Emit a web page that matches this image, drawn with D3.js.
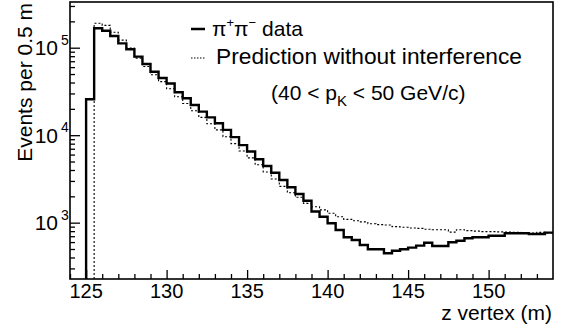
<!DOCTYPE html>
<html><head><meta charset="utf-8">
<script src="https://cdn.jsdelivr.net/npm/d3@7"></script>
<style>
body{margin:0;background:#fff}
text{font-family:"Liberation Sans",Arial,Helvetica,sans-serif;fill:#000}
</style>
</head><body><svg id="c" width="566" height="326"></svg>
<script>
// ---- data ----
const binWidth = 0.5;
const dataStart = 125.0;   // pi+pi- data, first bin low edge (m)
const dataValues = [25700,167000,156000,136000,112000,96000,79000,65000,53000,45000,
  39000,31000,26400,22100,18600,16000,13700,11500,9500,7700,
  6500,5300,4450,3720,3070,2540,2130,1780,1340,1170,
  985,826,681,634,556,497,497,447,478,497,
  518,546,590,542,542,597,622,663,681,681,
  710,710,757,757,757,741,741,770];
const predStart = 125.5;   // prediction without interference
const predValues = [190000,180000,150000,122000,99000,76000,61000,49000,41000,34000,
  27500,23000,19000,16000,13500,11500,9600,8000,6600,5500,
  4600,3800,3150,2600,2200,1950,1660,1520,1400,1280,
  1170,1090,1050,1020,970,950,940,900,885,870,
  860,840,830,830,780,830,810,800,790,790,
  785,780,775,770,760,775,765];
const xTickLabels = [125,130,135,140,145,150];
const xMinorTicks = [124,126,127,128,129,131,132,133,134,136,137,138,139,141,142,143,144,146,147,148,149,151,152,153];
const yTickExponents = [3,4,5];
const yMinorTicks = [300,400,500,600,700,800,900,2000,3000,4000,5000,6000,7000,8000,9000,
  20000,30000,40000,50000,60000,70000,80000,90000,200000,300000];
const xDomain = [124,154];
const yDomain = [227,333000];

// ---- chart ----
const svg = d3.select("#c");
const L=70,R=553,T=2,B=279;
const x = d3.scaleLinear().domain(xDomain).range([L,R]);
const y = d3.scaleLog().domain(yDomain).range([B,T]);

function histPath(start, vals){
  const pts = [[start, yDomain[0]]];
  vals.forEach((v,i)=>pts.push([start+i*binWidth, v]));
  pts.push([start+vals.length*binWidth, vals[vals.length-1]]);
  return d3.line().x(d=>x(d[0])).y(d=>y(d[1])).curve(d3.curveStepAfter)(pts);
}

svg.append("path").attr("d",histPath(predStart,predValues))
  .attr("fill","none").attr("stroke","#000").attr("stroke-width",1.1)
  .attr("stroke-dasharray","2,2");
svg.append("path").attr("d",histPath(dataStart,dataValues))
  .attr("fill","none").attr("stroke","#000").attr("stroke-width",2.4)
  .attr("stroke-linejoin","miter");

// axes ticks
const gx = svg.append("g").attr("transform",`translate(0,${B})`);
gx.call(d3.axisBottom(x).tickValues(xTickLabels).tickSize(-9).tickFormat(""));
const gxm = svg.append("g").attr("transform",`translate(0,${B})`);
gxm.call(d3.axisBottom(x).tickValues(xMinorTicks).tickSize(-5).tickFormat(""));
const gy = svg.append("g").attr("transform",`translate(${L},0)`);
gy.call(d3.axisLeft(y).tickValues(yTickExponents.map(e=>Math.pow(10,e))).tickSize(-10).tickFormat(""));
const gym = svg.append("g").attr("transform",`translate(${L},0)`);
gym.call(d3.axisLeft(y).tickValues(yMinorTicks).tickSize(-5).tickFormat(""));
svg.selectAll(".domain").remove();
svg.selectAll(".tick line").attr("stroke","#000").attr("stroke-width",1.3);

// frame
svg.append("rect").attr("x",L).attr("y",T).attr("width",R-L).attr("height",B-T)
  .attr("fill","none").attr("stroke","#000").attr("stroke-width",1.6);

// x tick labels
svg.selectAll("text.xl").data(xTickLabels).enter().append("text")
  .attr("class","xl").attr("x",d=>x(d)).attr("y",298)
  .attr("text-anchor","middle").attr("font-size",20).text(d=>d);
// y tick labels
yTickExponents.forEach(e=>{
  svg.append("text").attr("x",58).attr("y",y(Math.pow(10,e))+7.5)
    .attr("text-anchor","end").attr("font-size",21).text("10");
  svg.append("text").attr("x",61).attr("y",y(Math.pow(10,e))-3)
    .attr("font-size",14).text(e);
});

// axis titles
svg.append("text").attr("x",552).attr("y",320).attr("text-anchor","end")
  .attr("font-size",21).text("z vertex (m)");
svg.append("text").attr("transform","translate(32,3) rotate(-90)")
  .attr("text-anchor","end").attr("font-size",21).text("Events per 0.5 m");

// legend
svg.append("line").attr("x1",191).attr("x2",205).attr("y1",29).attr("y2",29)
  .attr("stroke","#000").attr("stroke-width",2.5);
const t1 = svg.append("text").attr("x",212).attr("y",36).attr("font-size",21);
t1.append("tspan").text("π");
t1.append("tspan").attr("font-size",13).attr("dy",-9).text("+");
t1.append("tspan").attr("dy",9).text("π");
t1.append("tspan").attr("font-size",13).attr("dy",-9).text("−");
t1.append("tspan").attr("dy",9).text(" data");
svg.append("line").attr("x1",191).attr("x2",206).attr("y1",58).attr("y2",58)
  .attr("stroke","#000").attr("stroke-width",1).attr("stroke-dasharray","1.5,1.5");
svg.append("text").attr("x",216).attr("y",64).attr("font-size",21.5)
  .attr("textLength",306).attr("lengthAdjust","spacingAndGlyphs")
  .text("Prediction without interference");
const t3 = svg.append("text").attr("x",271).attr("y",100).attr("font-size",21);
t3.append("tspan").text("(40 < p");
t3.append("tspan").attr("font-size",15).attr("dy",6).text("K");
t3.append("tspan").attr("dy",-6).text(" < 50 GeV/c)");
</script>
</body></html>
